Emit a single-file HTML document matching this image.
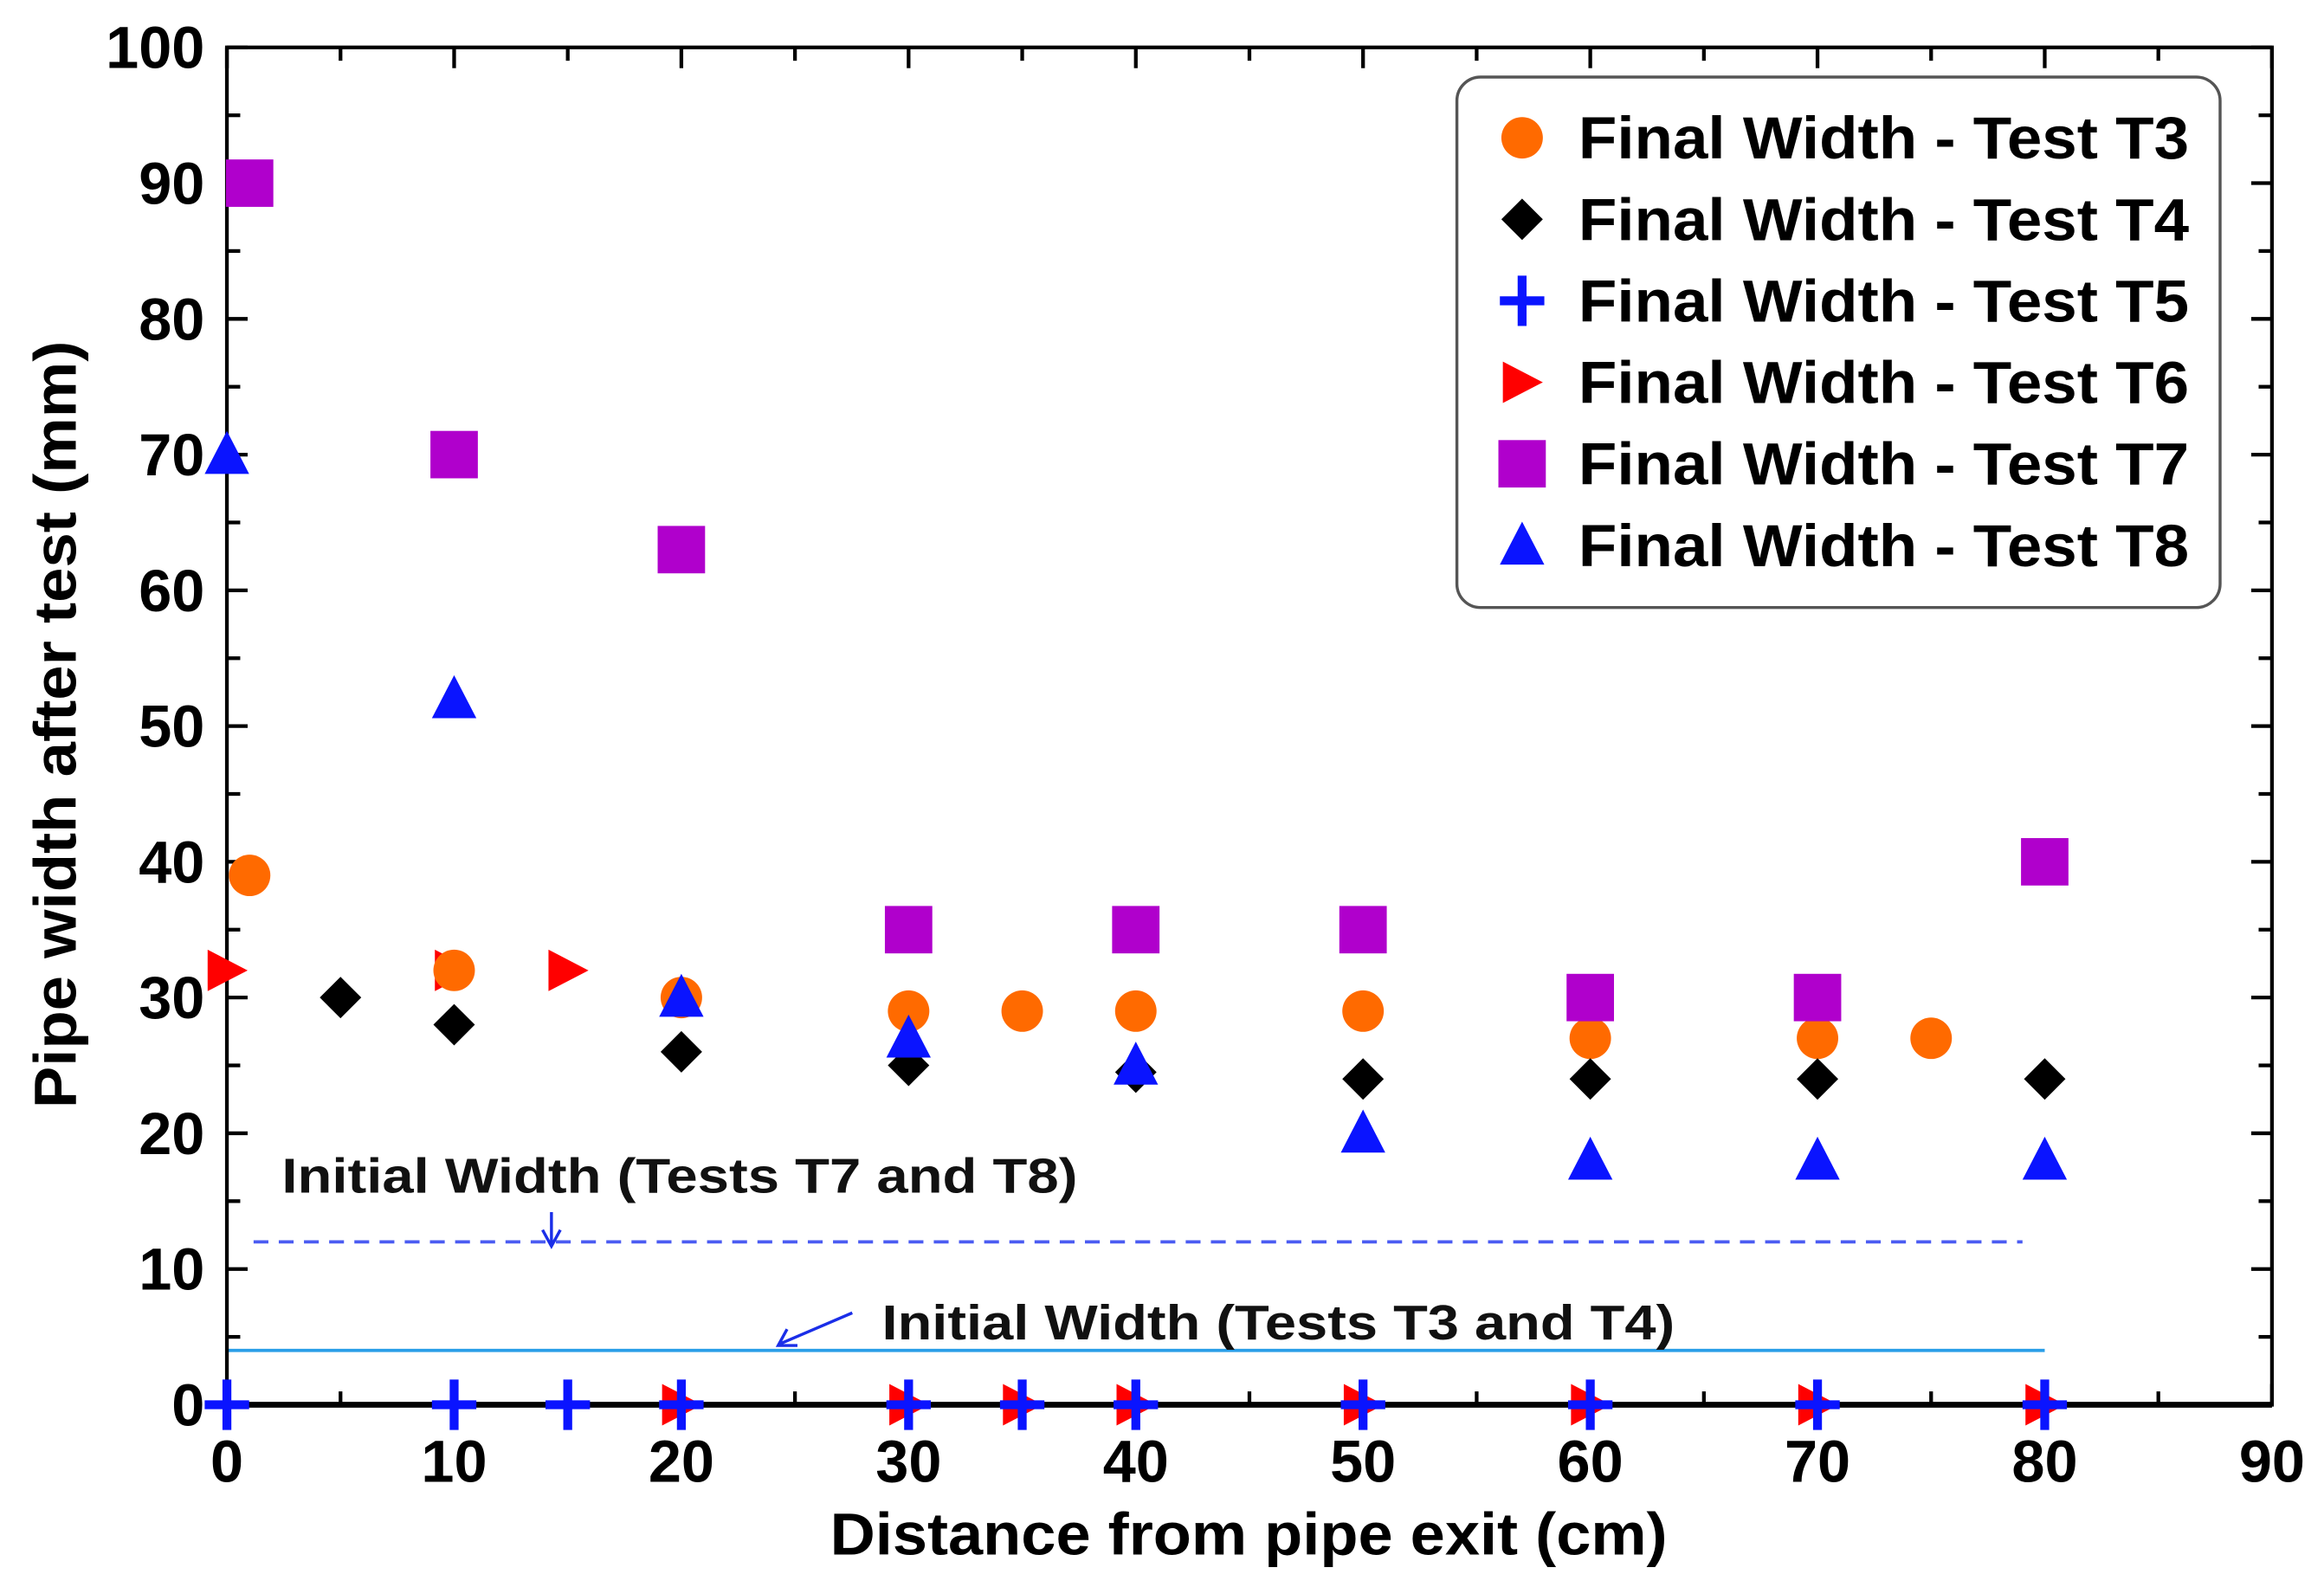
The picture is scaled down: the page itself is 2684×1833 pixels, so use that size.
<!DOCTYPE html>
<html><head><meta charset="utf-8"><style>
html,body{margin:0;padding:0;background:#fff;}
svg{display:block;}
text{font-family:"Liberation Sans",Arial,sans-serif;}
</style></head><body>
<svg id="chart" width="2684" height="1833" viewBox="0 0 1568 1071" xmlns="http://www.w3.org/2000/svg">
<g id="ann"></g>
<g id="axes"></g>
<g id="marks"></g>
<g id="legend"></g>
</svg>
<script>
const xTicks=[0,10,20,30,40,50,60,70,80,90];
const yTicks=[0,10,20,30,40,50,60,70,80,90,100];
const t3x=[1,10,20,30,35,40,50,60,70,75];
const t3y=[39,32,30,29,29,29,29,27,27,27];
const t4x=[5,10,20,30,40,50,60,70,80];
const t4y=[30,28,26,25,24.5,24,24,24,24];
const t5x=[0,10,15,20,30,35,40,50,60,70,80];
const t5y=[0,0,0,0,0,0,0,0,0,0,0];
const t6x=[0,10,15,20,30,35,40,50,60,70,80];
const t6y=[32,32,32,0,0,0,0,0,0,0,0];
const t7x=[1,10,20,30,40,50,60,70,80];
const t7y=[90,70,63,35,35,35,30,30,40];
const t8x=[0,10,20,30,40,50,60,70,80];
const t8y=[70,52,30,27,25,20,18,18,18];
const initT7T8=12, initT3T4=4, initEndX=80;
const legendLabels=["Final Width - Test T3","Final Width - Test T4","Final Width - Test T5","Final Width - Test T6","Final Width - Test T7","Final Width - Test T8"];

const L=153,R=1533,T=32,B=948;
const sx=v=>L+(v/90)*(R-L);
const sy=v=>B-(v/100)*(B-T);
const NS="http://www.w3.org/2000/svg";
function mk(tag,attrs,parent){const e=document.createElementNS(NS,tag);for(const k in attrs)e.setAttribute(k,attrs[k]);parent.appendChild(e);return e;}
const axes=document.getElementById('axes'),marks=document.getElementById('marks'),ann=document.getElementById('ann'),leg=document.getElementById('legend');

let l1=mk('line',{x1:sx(0)+18,y1:sy(initT7T8),x2:sx(initEndX)-15,y2:sy(initT7T8),stroke:'#4b5cf2','stroke-width':2.2,'stroke-dasharray':'10,7'},ann);


let l2=mk('line',{x1:sx(0),y1:sy(initT3T4),x2:sx(initEndX),y2:sy(initT3T4),stroke:'#2a9ee8','stroke-width':2.2},ann);


let a1=mk('text',{x:190,y:805,'font-size':33,'font-weight':'bold',fill:'#111',textLength:537,lengthAdjust:'spacingAndGlyphs'},ann);a1.textContent='Initial Width (Tests T7 and T8)';


let a2=mk('text',{x:595,y:904,'font-size':33,'font-weight':'bold',fill:'#111',textLength:535,lengthAdjust:'spacingAndGlyphs'},ann);a2.textContent='Initial Width (Tests T3 and T4)';


let ar1=mk('path',{d:'M372 818 L372 840 M366 830 L372 841 L378 830',stroke:'#1a2ee8','stroke-width':2,fill:'none'},ann);


let ar2=mk('path',{d:'M575 886 L526 907 M531 897 L525 908 L538 908',stroke:'#1a2ee8','stroke-width':2,fill:'none'},ann);



let fr=mk('rect',{x:L,y:T,width:R-L,height:B-T,fill:'none',stroke:'#000','stroke-width':2.5},axes);


mk('line',{x1:L,y1:B,x2:R,y2:B,stroke:'#000','stroke-width':4},axes);
for(let v=0;v<=90;v+=5){const x=sx(v),len=v%10===0?14:9;
 mk('line',{x1:x,y1:B,x2:x,y2:B-len,stroke:'#000','stroke-width':2.5},axes);
 mk('line',{x1:x,y1:T,x2:x,y2:T+len,stroke:'#000','stroke-width':2.5},axes);}
for(let v=0;v<=100;v+=5){const y=sy(v),len=v%10===0?14:9;
 mk('line',{x1:L,y1:y,x2:L+len,y2:y,stroke:'#000','stroke-width':2.5},axes);
 mk('line',{x1:R,y1:y,x2:R-len,y2:y,stroke:'#000','stroke-width':2.5},axes);}
xTicks.forEach(v=>{const t=mk('text',{x:sx(v),y:1000,'text-anchor':'middle','font-size':40,'font-weight':'bold'},axes);t.textContent=v;
 
 });
yTicks.forEach(v=>{const t=mk('text',{x:138,y:sy(v)+14,'text-anchor':'end','font-size':40,'font-weight':'bold'},axes);t.textContent=v;
 
 });
let xt=mk('text',{x:560,y:1049,'font-size':40,'font-weight':'bold',textLength:565,lengthAdjust:'spacingAndGlyphs'},axes);xt.textContent='Distance from pipe exit (cm)';


let yt=mk('text',{x:-259,y:0,'font-size':40,'font-weight':'bold',textLength:518,lengthAdjust:'spacingAndGlyphs',transform:'translate(51,489) rotate(-90)'},axes);yt.textContent='Pipe width after test (mm)';



function circle(x,y,p){return mk('circle',{cx:x,cy:y,r:14,fill:'#ff6a00'},p);}
function diamond(x,y,p){return mk('path',{d:`M${x} ${y-14}L${x+14} ${y}L${x} ${y+14}L${x-14} ${y}Z`,fill:'#000'},p);}
function plus(x,y,p){return mk('path',{d:`M${x-15} ${y}H${x+15}M${x} ${y-17}V${y+17}`,stroke:'#0a14ff','stroke-width':6,fill:'none'},p);}
function rtri(x,y,p){return mk('path',{d:`M${x-13} ${y-14}L${x+14} ${y}L${x-13} ${y+14}Z`,fill:'#ff0000'},p);}
function square(x,y,p){return mk('rect',{x:x-16,y:y-16,width:32,height:32,fill:'#b000cc'},p);}
function tri(x,y,p){return mk('path',{d:`M${x} ${y-16}L${x+15} ${y+13}L${x-15} ${y+13}Z`,fill:'#0a14ff'},p);}

const series=[[t6x,t6y,rtri,'t6'],[t3x,t3y,circle,'t3'],[t4x,t4y,diamond,'t4'],[t7x,t7y,square,'t7'],[t8x,t8y,tri,'t8'],[t5x,t5y,plus,'t5']];
series.forEach(([xs,ys,f,n])=>{xs.forEach((xv,i)=>{const e=f(sx(xv),sy(ys[i]),marks);
 
 });});

let lb=mk('rect',{x:983,y:52,width:515,height:358,rx:16,fill:'#fff',stroke:'#555','stroke-width':2},leg);


const lf=[circle,diamond,plus,rtri,square,tri];
legendLabels.forEach((s,i)=>{const y=93+i*55;
 const m=lf[i](1027,y,leg);
 
 
 const t=mk('text',{x:1065,y:y+14,'font-size':40,'font-weight':'bold',textLength:412,lengthAdjust:'spacingAndGlyphs'},leg);t.textContent=s;
 
 });
</script>
</body></html>
